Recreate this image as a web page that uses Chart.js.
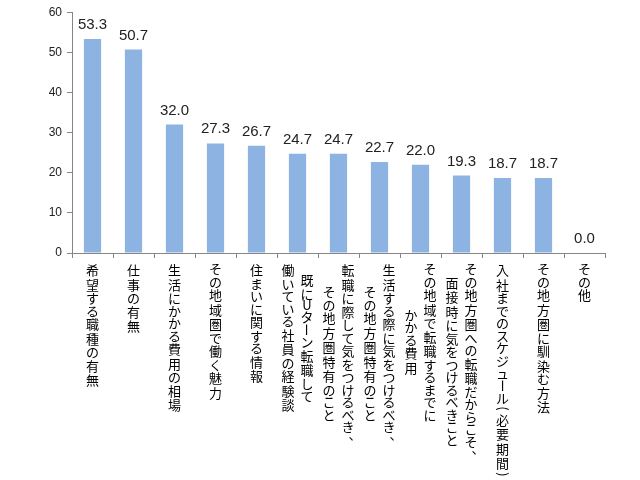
<!DOCTYPE html>
<html>
<head>
<meta charset="utf-8">
<script src="https://cdn.jsdelivr.net/npm/chart.js@4/dist/chart.umd.min.js"></script>
<style>
  body { margin: 0; background: #fff; }
  #wrap { width: 640px; height: 480px; }
</style>
</head>
<body>
<div id="wrap"><canvas id="chart" width="640" height="480"></canvas></div>
<script>
/* --------------- Data --------------------- */
// each category is a list of lines, first line is drawn on the right (vertical writing)
const categories = [
  ['希望する職種の有無'],
  ['仕事の有無'],
  ['生活にかかる費用の相場'],
  ['その地域圏で働く魅力'],
  ['住まいに関する情報'],
  ['既にUターン転職して', '働いている社員の経験談'],
  ['転職に際して気をつけるべき、', 'その地方圏特有のこと'],
  ['生活する際に気をつけるべき、', 'その地方圏特有のこと'],
  ['その地域で転職するまでに', 'かかる費用'],
  ['その地方圏への転職だからこそ、', '面接時に気をつけるべきこと'],
  ['入社までのスケジュール（必要期間）'],
  ['その地方圏に馴染む方法'],
  ['その他'],
];
const values = [53.3, 50.7, 32.0, 27.3, 26.7, 24.7, 24.7, 22.7, 22.0, 19.3, 18.7, 18.7, 0.0];
const yTicks = [0, 10, 20, 30, 40, 50, 60];

const barColor = '#8db3e2';
const axisColor = '#868686';
const jpFont = '"Noto Sans CJK JP", "Noto Sans", sans-serif';
const numFont = '"Liberation Sans", Arial, sans-serif';

/* --------------- Value labels above bars --------------------- */
const valueLabels = {
  id: 'valueLabels',
  afterDatasetsDraw(chart) {
    const ctx = chart.ctx;
    const meta = chart.getDatasetMeta(0);
    ctx.save();
    ctx.font = '15px ' + numFont;
    ctx.fillStyle = '#222';
    ctx.textAlign = 'center';
    ctx.textBaseline = 'alphabetic';
    meta.data.forEach((bar, i) => {
      ctx.fillText(values[i].toFixed(1), bar.x, bar.y - 10);
    });
    ctx.restore();
  }
};

/* --------------- Vertical category labels --------------------- */
// glyphs turned sideways in vertical writing
const rotated = { 'ー': 'ー', '（': '(', '）': ')' };
// proportional advance like the original font: kanji full, kana a bit shorter
const advance = (ch) => {
  if ('（）'.includes(ch)) return 8;
  if (ch === '、') return 11;
  if (/[\u3040-\u30ff]/.test(ch)) return 12.5;
  if (/[A-Za-z]/.test(ch)) return 11;
  return 14.5;
};
const lineLength = (line) => [...line].reduce((s, ch) => s + advance(ch), 0);

const verticalLabels = {
  id: 'verticalLabels',
  afterDraw(chart) {
    const ctx = chart.ctx;
    const xs = chart.scales.x;
    const colGap = 19;
    const top = xs.top + 10;
    ctx.save();
    ctx.font = '13px ' + jpFont;
    ctx.fillStyle = '#000';
    ctx.textAlign = 'center';
    ctx.textBaseline = 'middle';
    categories.forEach((lines, i) => {
      const cx = xs.getPixelForTick(i);
      const maxLen = Math.max(...lines.map(lineLength));
      lines.forEach((line, j) => {
        const colX = cx + (lines.length - 1) * colGap / 2 - j * colGap;
        let y = top + (maxLen - lineLength(line)) / 2;
        [...line].forEach(ch => {
          const a = advance(ch);
          const cy = y + a / 2;
          if (rotated[ch]) {
            ctx.save();
            ctx.translate(colX, cy);
            ctx.rotate(Math.PI / 2);
            ctx.fillText(rotated[ch], 0, 0);
            ctx.restore();
          } else if (ch === '、') {
            ctx.fillText(ch, colX + 7, cy - 5);
          } else {
            ctx.fillText(ch, colX, cy);
          }
          y += a;
        });
      });
    });
    ctx.restore();
  }
};

new Chart(document.getElementById('chart'), {
  type: 'bar',
  plugins: [valueLabels, verticalLabels],
  data: {
    labels: categories.map(l => l.join('')),
    datasets: [{
      data: values,
      backgroundColor: barColor,
      borderWidth: 0,
      categoryPercentage: 1,
      barPercentage: 0.42,
    }],
  },
  options: {
    responsive: false,
    animation: false,
    layout: { padding: { top: 11, right: 35, left: 0, bottom: 0 } },
    plugins: {
      legend: { display: false },
      tooltip: { enabled: false },
    },
    scales: {
      x: {
        grid: {
          offset: true,
          drawOnChartArea: false,
          drawTicks: true,
          tickLength: 5,
          color: axisColor,
        },
        border: { display: true, color: axisColor },
        ticks: { display: false },
        afterFit(scale) { scale.height = 227; },
      },
      y: {
        min: 0,
        max: 60,
        afterBuildTicks(scale) { scale.ticks = yTicks.map(v => ({ value: v })); },
        grid: {
          drawOnChartArea: false,
          drawTicks: true,
          tickLength: 5,
          color: axisColor,
        },
        border: { display: true, color: axisColor },
        ticks: {
          padding: 5,
          color: '#222',
          font: { family: numFont, size: 12 },
        },
        afterFit(scale) { scale.width = 72; },
      },
    },
  },
});
</script>
</body>
</html>
